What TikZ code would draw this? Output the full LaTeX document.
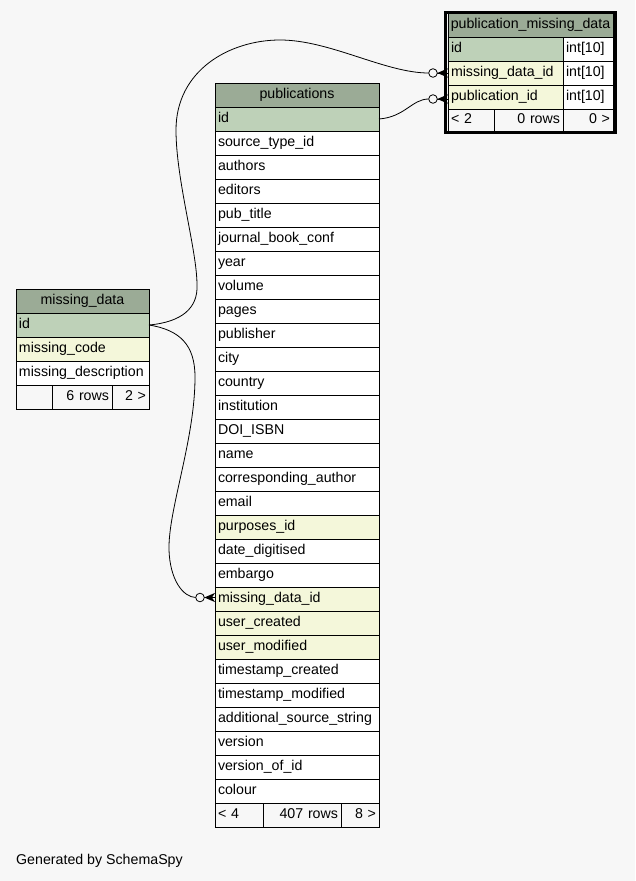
\documentclass[tikz,border=0pt]{standalone}
\usepackage{fontspec}
\setmainfont{Liberation Sans}
\usetikzlibrary{calc}

\definecolor{bgcol}{HTML}{F7F7F7}
\definecolor{headcol}{HTML}{9BAB96}
\definecolor{pkcol}{HTML}{BED1B8}
\definecolor{fkcol}{HTML}{F4F7DA}
\newcommand{\erfont}{\fontsize{14.2}{17}\selectfont}

\begin{document}
\begin{tikzpicture}[x=1pt,y=-1pt,
  cell/.style={draw=black, line width=1pt, rectangle, outer sep=0pt,
    inner xsep=3pt, inner ysep=0pt, minimum height=24pt,
    text height=10pt, text depth=4pt, anchor=north west,
    font=\erfont, fill=white},
  lcell/.style={cell, align=left, text width=#1},
  rcell/.style={cell, align=right, text width=#1, fill=bgcol},
  hcell/.style={cell, fill=headcol, inner xsep=0pt, minimum width=#1},
  link/.style={draw=black, line width=0.8pt},
  crowodot/.pic={
    \fill[black] (4.3,0) -- (15,-4.6) -- (12,0) -- (15,4.6) -- cycle;
    \draw[black, line width=0.8pt] (4.3,0) -- (15,0);
    \draw[black, line width=0.8pt, fill=bgcol] (0,0) circle (4.3);
  }
]
% canvas
\fill[bgcol] (0,0) rectangle (635,881);
\useasboundingbox (0,0) rectangle (635,881);

% ---- table: publications ----
\node[hcell=164pt] (pub-h) at (215,83) {publications};
\foreach \txt/\fc [count=\k from 0] in {
  id/pkcol, source\_type\_id/white, authors/white, editors/white,
  pub\_title/white, journal\_book\_conf/white, year/white, volume/white,
  pages/white, publisher/white, city/white, country/white,
  institution/white, DOI\_ISBN/white, name/white,
  corresponding\_author/white, email/white, purposes\_id/fkcol,
  date\_digitised/white, embargo/white, missing\_data\_id/fkcol,
  user\_created/fkcol, user\_modified/fkcol, timestamp\_created/white,
  timestamp\_modified/white, additional\_source\_string/white,
  version/white, version\_of\_id/white, colour/white}
  \node[lcell=158pt, fill=\fc] (pub-\k) at (215,{107+24*\k}) {\txt};
\node[lcell=42pt, fill=bgcol] (pub-f1) at (215,803) {< 4};
\node[rcell=72pt] (pub-f2) at (263,803) {407 rows};
\node[rcell=32pt] (pub-f3) at (341,803) {8 >};

% ---- table: missing_data ----
\node[hcell=133pt] (md-h) at (16,289) {missing\_data};
\node[lcell=127pt, fill=pkcol] (md-0) at (16,313) {id};
\node[lcell=127pt, fill=fkcol] (md-1) at (16,337) {missing\_code};
\node[lcell=127pt] (md-2) at (16,361) {missing\_description};
\node[lcell=30pt, fill=bgcol] (md-f1) at (16,385) {};
\node[rcell=54pt] (md-f2) at (52,385) {6 rows};
\node[rcell=31pt] (md-f3) at (112,385) {2 >};

% ---- table: publication_missing_data ----
\node[hcell=165pt] (pmd-h) at (448,13) {publication\_missing\_data};
\node[lcell=109pt, fill=pkcol] (pmd-0) at (448,37) {id};
\node[lcell=44pt] (pmd-0t) at (563,37) {int[10]};
\node[lcell=109pt, fill=fkcol] (pmd-1) at (448,61) {missing\_data\_id};
\node[lcell=44pt] (pmd-1t) at (563,61) {int[10]};
\node[lcell=109pt, fill=fkcol] (pmd-2) at (448,85) {publication\_id};
\node[lcell=44pt] (pmd-2t) at (563,85) {int[10]};
\node[lcell=40pt, fill=bgcol, minimum height=22pt] (pmd-f1) at (448,109) {< 2};
\node[rcell=63pt, minimum height=22pt] (pmd-f2) at (494,109) {0 rows};
\node[rcell=44pt, minimum height=22pt] (pmd-f3) at (563,109) {0 >};
\draw[line width=3pt] ($(pmd-h.north west)+(-3,-1)$) rectangle ($(pmd-f3.south east)+(2,1)$);

% ---- relationship ends ----
\coordinate (endA) at ($(pmd-1.west)+(-15,0)$);
\coordinate (endB) at ($(pmd-2.west)+(-15,2)$);
\coordinate (endC) at ($(pub-20.west)+(-15,-1.5)$);

% missing_data.id -> publication_missing_data.missing_data_id
\draw[link] (md-0.east) .. controls (182,322) and (198,308) .. (197,285)
  .. controls (197,250) and (176,180) .. (176,130)
  .. controls (176,70) and (230,40) .. (280,40)
  .. controls (330,40) and (385,73) .. ($(endA)+(-4.3,0)$);
% publications.id -> publication_missing_data.publication_id
\draw[link] (pub-0.east) .. controls (405,117) and (412,99) .. ($(endB)+(-4.3,0)$);
% missing_data.id -> publications.missing_data_id
\draw[link] (md-0.east) .. controls (180,330) and (195,345) .. (195,377)
  .. controls (195,440) and (168,510) .. (169,550)
  .. controls (170,580) and (183,597) .. ($(endC)+(-4.3,0)$);

\pic at (endA) {crowodot};
\pic at (endB) {crowodot};
\pic at (endC) {crowodot};

\node[anchor=base west, font=\erfont, inner sep=0pt] (credit) at (16,864) {Generated by SchemaSpy};
\end{tikzpicture}
\end{document}
